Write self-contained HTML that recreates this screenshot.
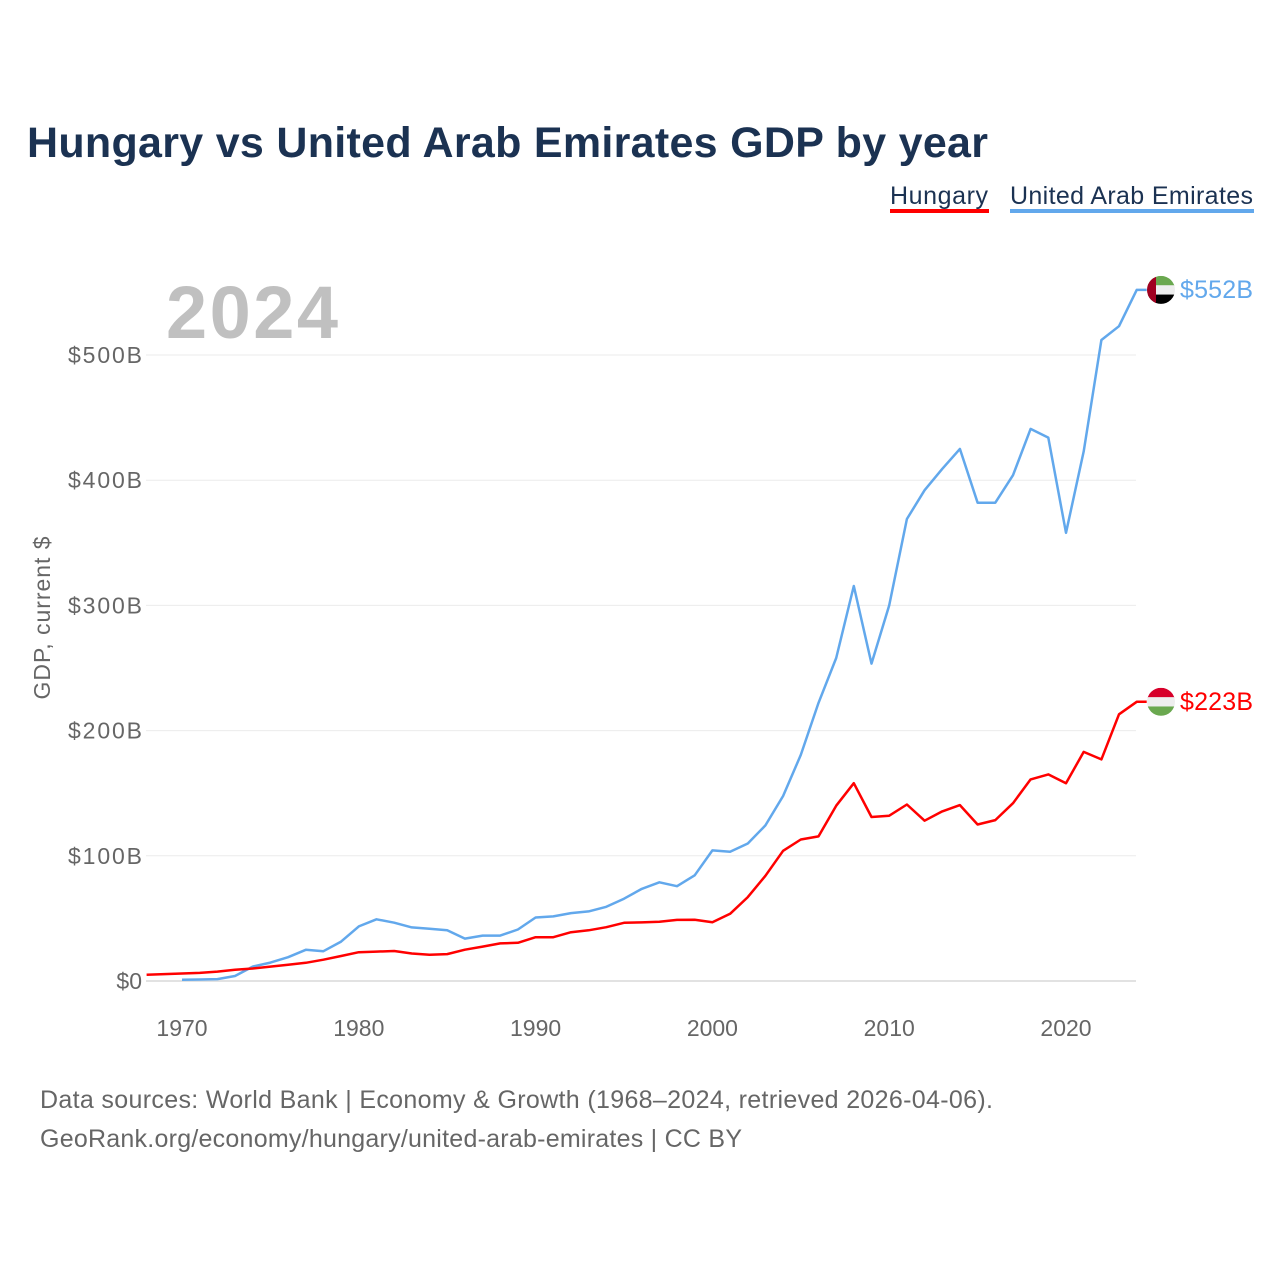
<!DOCTYPE html>
<html><head><meta charset="utf-8">
<style>
body{margin:0;background:#fff;width:1280px;height:1280px;overflow:hidden;font-family:"Liberation Sans",sans-serif;}
svg{display:block}
</style></head>
<body>
<svg id="chart" width="1280" height="1280">
<text x="27" y="157" font-size="43" font-weight="bold" fill="#1b3252" textLength="961">Hungary vs United Arab Emirates GDP by year</text>
<g>
<text x="890" y="204" font-size="25" fill="#1b3252" textLength="98">Hungary</text>
<rect x="890" y="209" width="99" height="4" fill="#ff0000"/>
<text x="1010" y="204" font-size="25" fill="#1b3252" textLength="243">United Arab Emirates</text>
<rect x="1010" y="209" width="244" height="4" fill="#62a8ec"/>
</g>
<text x="166" y="338" font-size="74" font-weight="bold" fill="#c0c0c0" textLength="172">2024</text>
<text transform="translate(50,618) rotate(-90)" text-anchor="middle" font-size="23" fill="#666" textLength="163">GDP, current $</text>
<g id="grid"></g><g id="series"></g>
<text x="40" y="1108" font-size="25" fill="#666" textLength="953">Data sources: World Bank | Economy &amp; Growth (1968–2024, retrieved 2026-04-06).</text>
<text x="40" y="1147" font-size="25" fill="#666" textLength="702">GeoRank.org/economy/hungary/united-arab-emirates | CC BY</text>
</svg>
<script>
const hungaryYears=[1968,1969,1970,1971,1972,1973,1974,1975,1976,1977,1978,1979,1980,1981,1982,1983,1984,1985,1986,1987,1988,1989,1990,1991,1992,1993,1994,1995,1996,1997,1998,1999,2000,2001,2002,2003,2004,2005,2006,2007,2008,2009,2010,2011,2012,2013,2014,2015,2016,2017,2018,2019,2020,2021,2022,2023,2024];
const hungaryValues=[5,5.5,6,6.5,7.5,9,10,11.5,13,14.5,17,20,23,23.5,24,22,21,21.5,25,27.5,30,30.5,35,35,39,40.5,43,46.5,46.8,47.3,48.8,49,47,53.7,67,84,104,113,115.5,140,158,131,132,141,128,135.5,140.5,125,128.5,142,161,165,158,183,177,213,223];
const uaeYears=[1970,1971,1972,1973,1974,1975,1976,1977,1978,1979,1980,1981,1982,1983,1984,1985,1986,1987,1988,1989,1990,1991,1992,1993,1994,1995,1996,1997,1998,1999,2000,2001,2002,2003,2004,2005,2006,2007,2008,2009,2010,2011,2012,2013,2014,2015,2016,2017,2018,2019,2020,2021,2022,2023,2024];
const uaeValues=[1,1.2,1.5,4,11.5,14.7,19,24.9,23.8,31.5,43.6,49.3,46.6,42.8,41.8,40.6,33.9,36.3,36.3,41.1,50.7,51.6,54.2,55.6,59.3,65.7,73.6,78.8,75.7,84.4,104.3,103.3,109.8,124.3,147.8,180.6,222.1,258,315.5,253.5,300,369,392,409,425,382,382,404,441,434,358,423,512,523,552];
const yTicks=[0,100,200,300,400,500];
const yTickLabels=["$0","$100B","$200B","$300B","$400B","$500B"];
const xTicks=[1970,1980,1990,2000,2010,2020];
const NS="http://www.w3.org/2000/svg";
const xs=y=>182+(y-1970)*17.68;
const ys=v=>981-v*1.252;
const grid=document.getElementById('grid'),ser=document.getElementById('series');
yTicks.forEach((t,i)=>{
 const l=document.createElementNS(NS,'line');
 l.setAttribute('x1',146);l.setAttribute('x2',1136);l.setAttribute('y1',ys(t));l.setAttribute('y2',ys(t));
 l.setAttribute('stroke',t===0?'#e2e2e2':'#ebebeb');l.setAttribute('stroke-width',t===0?2:1);
 
 
 grid.appendChild(l);
 const tx=document.createElementNS(NS,'text');
 tx.setAttribute('x',142);tx.setAttribute('y',ys(t)+8);tx.setAttribute('text-anchor','end');
 tx.setAttribute('font-size',23);tx.setAttribute('fill','#666');tx.textContent=yTickLabels[i];
 if(t>=100)tx.setAttribute('textLength',74);
 
 
 grid.appendChild(tx);
});
xTicks.forEach(t=>{
 const tx=document.createElementNS(NS,'text');
 tx.setAttribute('x',xs(t));tx.setAttribute('y',1036);tx.setAttribute('text-anchor','middle');
 tx.setAttribute('font-size',23);tx.setAttribute('fill','#666');tx.textContent=t;
 
 
 grid.appendChild(tx);
});
function line(years,vals,color,name){
 const p=document.createElementNS(NS,'polyline');
 const pts=years.map((y,i)=>xs(y).toFixed(1)+','+ys(vals[i]).toFixed(1));
 const last=vals[vals.length-1];
 pts.push((xs(years[years.length-1])+10).toFixed(1)+','+ys(last).toFixed(1));
 p.setAttribute('points',pts.join(' '));p.setAttribute('fill','none');p.setAttribute('stroke',color);p.setAttribute('stroke-width',2.5);
 p.setAttribute('stroke-linejoin','round');
 
 
 ser.appendChild(p);
 const lb=document.createElementNS(NS,'text');
 lb.setAttribute('x',1180);lb.setAttribute('y',ys(last)+8);lb.setAttribute('font-size',25);lb.setAttribute('fill',color);
 lb.setAttribute('textLength',73);
 lb.textContent='$'+Math.round(last)+'B';
 
 
 ser.appendChild(lb);
 return ys(last);
}
function flag(cy,stripes,left,name){
 const g=document.createElementNS(NS,'g');
 
 
 const id='c'+name;
 g.innerHTML='<clipPath id="'+id+'"><circle cx="1161" cy="'+cy+'" r="14"/></clipPath><g clip-path="url(#'+id+')">'+
  stripes.map((c,i)=>'<rect x="1147" y="'+(cy-14+i*28/3)+'" width="28" height="'+(28/3+0.5)+'" fill="'+c+'"/>').join('')+
  (left?'<rect x="1147" y="'+(cy-14)+'" width="9" height="28" fill="'+left+'"/>':'')+'</g>';
 ser.appendChild(g);
}
const yu=line(uaeYears,uaeValues,'#62a8ec','uae');
const yh=line(hungaryYears,hungaryValues,'#ff0000','hungary');
flag(yu,['#6aa84f','#eeeeee','#000000'],'#a00020','uae');
flag(yh,['#d7002a','#eeeeee','#6aa84f'],null,'hungary');
</script>
</body></html>
